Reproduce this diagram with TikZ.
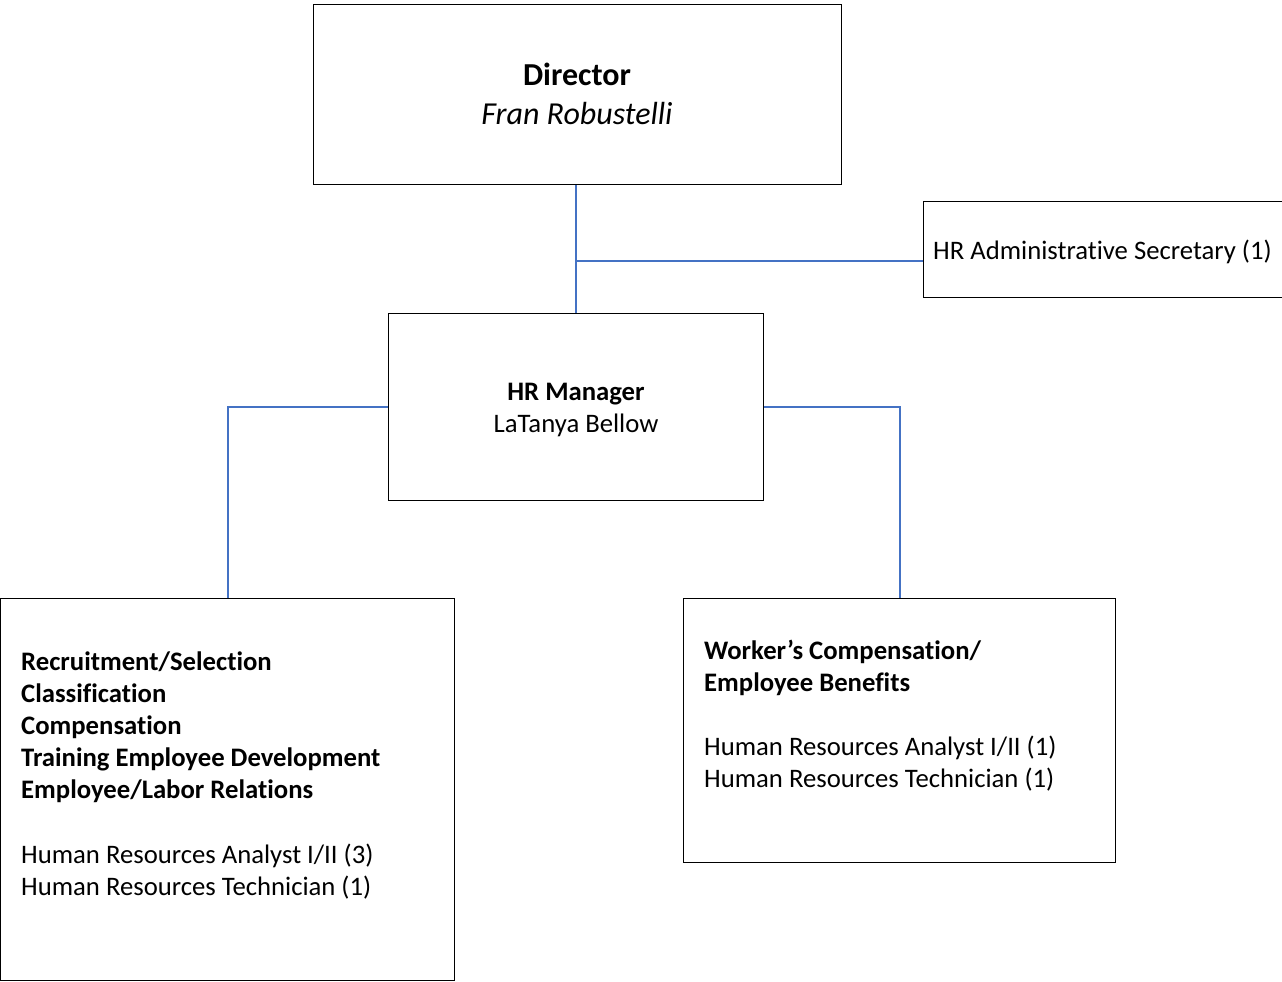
\documentclass[tikz,border=0pt]{standalone}
\usepackage{fontspec}
\setmainfont{Carlito}[Ligatures=NoCommon]
\definecolor{linkblue}{HTML}{4472C4}
\begin{document}
\begin{tikzpicture}[x=1pt,y=-1pt,
  box/.style={draw=black,line width=1.4pt,rectangle,inner sep=0pt,anchor=north west},
  link/.style={draw=linkblue,line width=2pt},
  body/.style={anchor=base west,inner sep=0pt,font=\fontsize{26.7}{32}\selectfont},
  bodyc/.style={anchor=base,inner sep=0pt,font=\fontsize{26.7}{32}\selectfont},
  big/.style={anchor=base,inner sep=0pt,font=\fontsize{32}{39}\selectfont}]
  \useasboundingbox (0,0) rectangle (1282,982);

  % boxes
  \node[box,minimum width=528pt,minimum height=180pt] (dir) at (313,4) {};
  \node[box,minimum width=361pt,minimum height=96pt] (sec) at (923,201) {};
  \node[box,minimum width=375pt,minimum height=187pt] (mgr) at (388,313) {};
  \node[box,minimum width=454pt,minimum height=382pt] (left) at (0,598) {};
  \node[box,minimum width=432pt,minimum height=264pt] (right) at (683,598) {};

  % texts
  \node[big] (dirt) at (577,85) {\bfseries Director};
  \node[big] (dirn) at (577,124) {\itshape Fran Robustelli};
  \node[body] (sect) at (933,259) {HR Administrative Secretary (1)};
  \node[bodyc] (mgrt) at (576,400) {\bfseries HR Manager};
  \node[bodyc] (mgrn) at (576,432) {LaTanya Bellow};

  \node[body] (l1) at (21,670) {\bfseries Recruitment/Selection};
  \node[body] (l2) at (21,702) {\bfseries Classification};
  \node[body] (l3) at (21,734) {\bfseries Compensation};
  \node[body] (l4) at (21,766) {\bfseries Training Employee Development};
  \node[body] (l5) at (21,798) {\bfseries Employee/Labor Relations};
  \node[body] (l6) at (21,863) {Human Resources Analyst I/II (3)};
  \node[body] (l7) at (21,895) {Human Resources Technician (1)};

  \node[body] (r1) at (704,659) {\bfseries Worker’s Compensation/};
  \node[body] (r2) at (704,691) {\bfseries Employee Benefits};
  \node[body] (r3) at (704,755) {Human Resources Analyst I/II (1)};
  \node[body] (r4) at (704,787) {Human Resources Technician (1)};

  % connectors
  \coordinate (j) at (576,261);
  \draw[link] (dir.south -| j) -- (mgr.north -| j);
  \draw[link] (j) -- (j -| sec.west);
  \draw[link] (mgr.west) -| (left.north);
  \draw[link] (mgr.east) -| (right.north);
\end{tikzpicture}
\end{document}
